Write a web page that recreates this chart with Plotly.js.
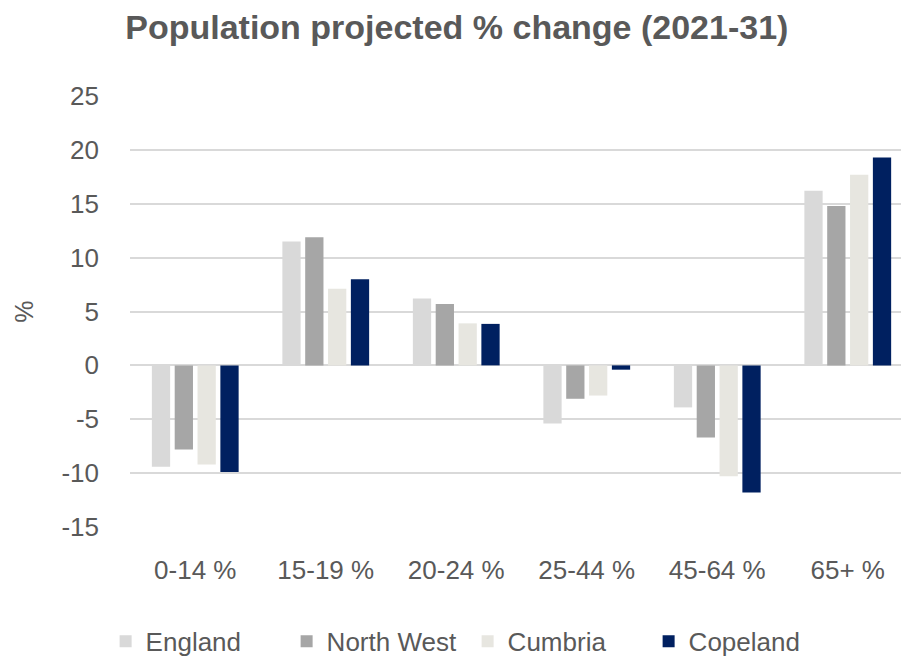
<!DOCTYPE html>
<html>
<head>
<meta charset="utf-8">
<script src="https://cdn.plot.ly/plotly-3.0.1.min.js"></script>
<style>
  html, body { margin: 0; padding: 0; background: #fff; }
  #chart { width: 901px; height: 657px; }
</style>
</head>
<body>
<div id="chart"></div>
<script>
const categories = ["0-14 %", "15-19 %", "20-24 %", "25-44 %", "45-64 %", "65+ %"];
const england    = [-9.4, 11.5, 6.2, -5.4, -3.9, 16.2];
const northWest  = [-7.8, 11.9, 5.7, -3.1, -6.7, 14.8];
const cumbria    = [-9.2, 7.1, 3.9, -2.8, -10.3, 17.7];
const copeland   = [-9.9, 8.0, 3.85, -0.4, -11.8, 19.3];
const yTicks     = [-15, -10, -5, 0, 5, 10, 15, 20, 25];

const seriesNames  = ["England", "North West", "Cumbria", "Copeland"];
const seriesValues = [england, northWest, cumbria, copeland];
const seriesColors = ["#d9d9d9", "#a6a6a6", "#e7e6e0", "#002060"];

const traces = seriesNames.map((name, i) => ({
  type: "bar",
  name: name,
  x: categories,
  y: seriesValues[i],
  marker: { color: seriesColors[i] },
  hoverinfo: "x+y+name"
}));

const layout = {
  width: 901,
  height: 657,
  paper_bgcolor: "#ffffff",
  plot_bgcolor: "#ffffff",
  font: { family: "Liberation Sans, Arial, sans-serif", color: "#595959", size: 26 },
  title: {
    text: "<b>Population projected % change (2021-31)</b>",
    font: { size: 34, color: "#595959", family: "Liberation Sans, Arial, sans-serif" },
    x: 0.507, xanchor: "center", xref: "container",
    y: 0.959, yanchor: "middle", yref: "container"
  },
  margin: { l: 130, r: 0, t: 96, b: 130 },
  barmode: "group",
  bargap: 0.30,
  bargroupgap: 0.2,
  xaxis: {
    range: [-0.5, 5.408],
    tickfont: { size: 26, color: "#595959" },
    showgrid: false,
    showline: false,
    ticks: "",
    ticklen: 0,
    ticklabelstandoff: 25,
    automargin: false
  },
  yaxis: {
    range: [-15, 25],
    tickvals: yTicks,
    ticktext: yTicks.map(String),
    tickfont: { size: 26, color: "#595959" },
    showgrid: true,
    gridcolor: "#d9d9d9",
    gridwidth: 2,
    zeroline: true,
    zerolinecolor: "#d9d9d9",
    zerolinewidth: 2,
    showline: false,
    ticks: "",
    ticklabelstandoff: 30,
    title: { text: "%", font: { size: 25, color: "#595959" }, standoff: 20 },
    automargin: false
  },
  showlegend: true,
  legend: {
    orientation: "h",
    xref: "container",
    yref: "container",
    x: 0.519, xanchor: "center",
    y: 0.024, yanchor: "middle",
    font: { size: 26, color: "#595959" },
    itemwidth: 30,
    entrywidth: 136,
    entrywidthmode: "pixels",
    traceorder: "normal"
  }
};

Plotly.newPlot("chart", traces, layout, { displayModeBar: false, staticPlot: true });
</script>
</body>
</html>
